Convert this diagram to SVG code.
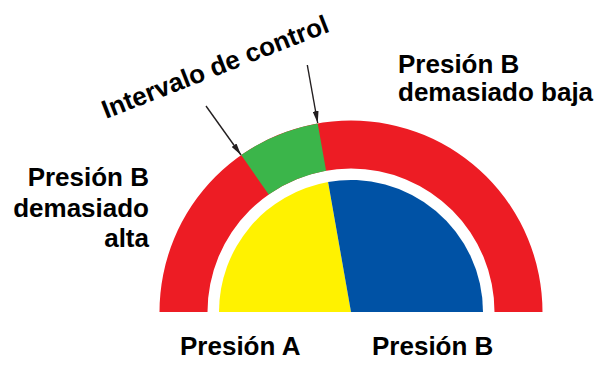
<svg xmlns="http://www.w3.org/2000/svg" width="605" height="365" viewBox="0 0 605 365">
<defs>
<style>
.lbl{font-family:"Liberation Sans",Arial,sans-serif;font-weight:bold;font-size:26px;fill:#000}
.arr{stroke:#231F20;stroke-width:1.4;fill:none;marker-end:url(#ah)}
</style>
<marker id="ah" viewBox="0 0 12 6" refX="12" refY="3" markerWidth="12" markerHeight="6" markerUnits="userSpaceOnUse" orient="auto">
<path d="M0 0 L12 3 L0 6 Z" fill="#231F20"/>
</marker>
</defs>
<rect width="605" height="365" fill="#fff"/>
<g id="gauge-outer">
<path d="M159.5 312 A191.5 191.5 0 0 1 542.5 312 L494.5 312 A143.5 143.5 0 0 0 207.5 312 Z" fill="#ED1C24"/>
<path d="M241.2 155.1 A191.5 191.5 0 0 1 317.7 123.4 L326.1 170.7 A143.5 143.5 0 0 0 268.7 194.4 Z" fill="#3BB54A"/>
</g>
<g id="gauge-inner">
<path d="M351 312 L219 312 A132 132 0 0 1 328.1 182 Z" fill="#FFF200"/>
<path d="M351 312 L328.1 182 A132 132 0 0 1 483 312 Z" fill="#0052A5"/>
</g>
<g id="connectors">
<line class="arr" x1="206" y1="106" x2="241" y2="155"/>
<line class="arr" x1="307.3" y1="65" x2="317.7" y2="123"/>
</g>
<g id="label-control">
<text class="lbl" transform="translate(106 119) rotate(-21.3)" font-size="26.5">Intervalo de control</text>
</g>
<g id="label-baja">
<text class="lbl" x="398" y="73">Presión B</text>
<text class="lbl" x="398" y="101">demasiado baja</text>
</g>
<g id="label-alta">
<text class="lbl" x="149" y="186" text-anchor="end">Presión B</text>
<text class="lbl" x="149" y="216.5" text-anchor="end">demasiado</text>
<text class="lbl" x="149" y="247" text-anchor="end">alta</text>
</g>
<g id="label-a">
<text class="lbl" x="180" y="355">Presión A</text>
</g>
<g id="label-b">
<text class="lbl" x="372" y="355">Presión B</text>
</g>
</svg>
